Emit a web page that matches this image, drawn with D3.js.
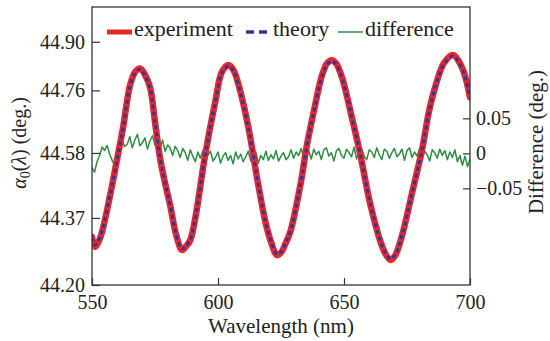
<!DOCTYPE html>
<html>
<head>
<meta charset="utf-8">
<script src="https://cdn.jsdelivr.net/npm/d3@7"></script>
<style>
    body { margin: 0; background: #fff; }
</style>
</head>
<body>
<div id="chart"></div>
<script>
// --- data ---
const wavelengths = [
    550.0, 551.2, 553.2, 557.2, 559.9, 562.3, 565.1, 567.1, 569.1, 571.1,
    573.1, 575.0, 577.0, 579.0, 581.0, 583.4, 585.7, 587.4, 589.0, 591.0,
    594.9, 598.9, 601.6, 604.2, 606.1, 608.2, 612.1, 615.5, 618.8, 620.8,
    623.4, 625.2, 626.7, 628.7, 632.7, 635.3, 638.0, 641.3, 643.4, 645.3,
    647.0, 649.3, 653.2, 656.5, 660.5, 664.5, 666.5, 668.5, 670.4, 673.1,
    677.1, 681.1, 683.7, 686.4, 689.6, 693.2, 697.0, 700.0
];
const experiment = [
    44.339, 44.310, 44.335, 44.459, 44.560, 44.652, 44.775, 44.813, 44.823, 44.804,
    44.767, 44.669, 44.565, 44.493, 44.430, 44.344, 44.301, 44.312, 44.329, 44.393,
    44.574, 44.727, 44.814, 44.833, 44.819, 44.775, 44.652, 44.508, 44.382, 44.329,
    44.286, 44.295, 44.318, 44.353, 44.488, 44.603, 44.699, 44.804, 44.839, 44.847,
    44.836, 44.795, 44.680, 44.574, 44.430, 44.324, 44.289, 44.272, 44.286, 44.344,
    44.468, 44.594, 44.699, 44.775, 44.838, 44.862, 44.823, 44.740
];
const theory = [
    44.337, 44.315, 44.338, 44.460, 44.558, 44.650, 44.772, 44.810, 44.821, 44.802,
    44.765, 44.668, 44.566, 44.494, 44.431, 44.346, 44.304, 44.314, 44.331, 44.394,
    44.573, 44.725, 44.811, 44.830, 44.817, 44.773, 44.651, 44.509, 44.383, 44.331,
    44.289, 44.297, 44.319, 44.354, 44.487, 44.601, 44.697, 44.801, 44.836, 44.844,
    44.834, 44.794, 44.680, 44.575, 44.431, 44.326, 44.292, 44.275, 44.288, 44.345,
    44.467, 44.593, 44.697, 44.773, 44.835, 44.859, 44.821, 44.739
];

// difference, one value per nm from 550 to 700
const diffStart = 550;
const difference = [
    -0.020, -0.027, -0.012, -0.003, 0.009, 0.004, 0.011, -0.001, -0.010, -0.018,
    -0.013, 0.003, 0.017, 0.010, 0.013, 0.024, 0.008, 0.019, 0.027, 0.011,
    0.015, 0.022, 0.006, 0.018, 0.025, 0.012, 0.016, 0.007, 0.019, 0.003,
    0.012, 0.008, -0.003, 0.010, 0.004, -0.006, 0.007, 0.001, -0.010, 0.005,
    -0.004, -0.012, 0.002, -0.007, 0.004, -0.013, -0.002, 0.003, -0.011, -0.006,
    0.002, -0.014, -0.004, 0.001, -0.010, -0.003, -0.015, 0.002, -0.008, -0.001,
    -0.012, -0.005, 0.003, -0.011, -0.007, 0.002, -0.014, -0.003, -0.009, 0.003,
    -0.010, -0.002, -0.008, 0.004, -0.011, -0.004, 0.001, -0.009, -0.005, 0.005,
    -0.007, 0.002, -0.003, 0.007, -0.006, -0.001, 0.004, -0.008, 0.006, -0.002,
    0.003, -0.009, 0.005, 0.008, -0.004, 0.001, -0.011, 0.004, 0.007, -0.003,
    -0.007, 0.006, 0.001, -0.005, 0.009, -0.008, 0.003, 0.007, -0.004, -0.009,
    0.005, 0.002, -0.006, 0.008, -0.002, -0.009, 0.006, 0.003, -0.007, 0.001,
    0.007, -0.005, -0.001, 0.006, -0.010, 0.004, 0.008, -0.006, 0.002, -0.004,
    0.007, -0.008, 0.003, -0.002, -0.011, 0.005, 0.001, -0.007, 0.006, -0.003,
    0.004, -0.009, 0.002, -0.006, 0.005, -0.012, -0.003, -0.017, -0.004, -0.019,
    -0.008
];

const xTicks = [550, 600, 650, 700];
const leftTickValues = [44.20, 44.393, 44.58, 44.76, 44.90];
const leftTickLabels = ["44.20", "44.37", "44.58", "44.76", "44.90"];
const rightTicks = [-0.05, 0, 0.05];

const colors = { experiment: "#e8262e", theory: "#2b3a92", difference: "#2f8c44" };
const serif = "Liberation Serif";

// --- layout ---
const width = 550, height = 341;
const plot = { left: 92, right: 470, top: 7, bottom: 285 };

const svg = d3.select("#chart").append("svg")
    .attr("width", width)
    .attr("height", height);

const x = d3.scaleLinear().domain([550, 700]).range([plot.left, plot.right]);
const yL = d3.scaleLinear().domain([44.2, 45.0]).range([plot.bottom, plot.top]);
const yR = d3.scaleLinear().domain([-0.188, 0.209]).range([plot.bottom, plot.top]);

svg.append("defs").append("clipPath").attr("id", "clip")
    .append("rect")
    .attr("x", plot.left).attr("y", plot.top)
    .attr("width", plot.right - plot.left)
    .attr("height", plot.bottom - plot.top);

const g = svg.append("g").attr("clip-path", "url(#clip)");

// difference (drawn under the main curves)
const diffLine = d3.line()
    .x((d, i) => x(diffStart + i))
    .y(d => yR(d));

g.append("path")
    .datum(difference)
    .attr("d", diffLine)
    .attr("fill", "none")
    .attr("stroke", colors.difference)
    .attr("stroke-width", 1.5)
    .attr("stroke-linejoin", "round");

const curve = d3.line()
    .x((d, i) => x(wavelengths[i]))
    .y(d => yL(d))
    .curve(d3.curveCatmullRom);

g.append("path")
    .datum(experiment)
    .attr("d", curve)
    .attr("fill", "none")
    .attr("stroke", colors.experiment)
    .attr("stroke-width", 6.5)
    .attr("stroke-linejoin", "round")
    .attr("stroke-linecap", "round");

g.append("path")
    .datum(theory)
    .attr("d", curve)
    .attr("fill", "none")
    .attr("stroke", colors.theory)
    .attr("stroke-width", 3)
    .attr("stroke-dasharray", "4,3");

// --- axes (ticks point inward) ---
function styleAxis(a) {
    a.attr("font-family", serif).attr("font-size", 20);
    a.select(".domain").remove();
    a.selectAll(".tick line").attr("stroke", "#333").attr("stroke-width", 1.2);
    a.selectAll(".tick text").attr("fill", "#222");
}

svg.append("g")
    .attr("transform", `translate(0,${plot.bottom})`)
    .call(d3.axisBottom(x).tickValues(xTicks).tickSize(-7).tickPadding(10).tickFormat(d3.format("d")))
    .call(styleAxis);

svg.append("g")
    .attr("transform", `translate(${plot.left},0)`)
    .call(d3.axisLeft(yL).tickValues(leftTickValues).tickSize(-8).tickPadding(7)
        .tickFormat((d, i) => leftTickLabels[i]))
    .call(styleAxis);

svg.append("g")
    .attr("transform", `translate(${plot.right},0)`)
    .call(d3.axisRight(yR).tickValues(rightTicks).tickSize(-7).tickPadding(6)
        .tickFormat(d => d === 0 ? "0" : d3.format(".2f")(d).replace("-", "\u2212")))
    .call(styleAxis);

// frame
svg.append("rect")
    .attr("x", plot.left).attr("y", plot.top)
    .attr("width", plot.right - plot.left)
    .attr("height", plot.bottom - plot.top)
    .attr("fill", "none")
    .attr("stroke", "#333")
    .attr("stroke-width", 1.3);

// axis titles
svg.append("text")
    .attr("x", (plot.left + plot.right) / 2)
    .attr("y", 333)
    .attr("text-anchor", "middle")
    .attr("fill", "#222")
    .attr("font-family", serif)
    .attr("font-size", 21)
    .text("Wavelength (nm)");

const yTitle = svg.append("text")
    .attr("transform", "translate(26,143) rotate(-90)")
    .attr("text-anchor", "middle")
    .attr("fill", "#222")
    .attr("font-family", serif)
    .attr("font-size", 20);
yTitle.append("tspan").attr("font-style", "italic").text("α");
yTitle.append("tspan").attr("dy", 4).attr("font-size", 14).text("0");
yTitle.append("tspan").attr("dy", -4).text("(");
yTitle.append("tspan").attr("font-style", "italic").text("λ");
yTitle.append("tspan").text(") (deg.)");

svg.append("text")
    .attr("transform", "translate(543,142) rotate(-90)")
    .attr("text-anchor", "middle")
    .attr("fill", "#222")
    .attr("font-family", serif)
    .attr("font-size", 21)
    .text("Difference (deg.)");

// legend
const legend = [
    { label: "experiment", color: colors.experiment, x: 107, width: 5, dash: null },
    { label: "theory", color: colors.theory, x: 246, width: 3.5, dash: "8,5" },
    { label: "difference", color: colors.difference, x: 338, width: 1.5, dash: null }
];

const lg = svg.append("g");
legend.forEach(d => {
    lg.append("line")
        .attr("x1", d.x).attr("x2", d.x + 25)
        .attr("y1", 32).attr("y2", 32)
        .attr("stroke", d.color)
        .attr("stroke-width", d.width)
        .attr("stroke-dasharray", d.dash);
    lg.append("text")
        .attr("x", d.x + 27)
        .attr("y", 36)
        .attr("fill", "#222")
        .attr("font-family", serif)
        .attr("font-size", 22)
        .text(d.label);
});
</script>
</body>
</html>
